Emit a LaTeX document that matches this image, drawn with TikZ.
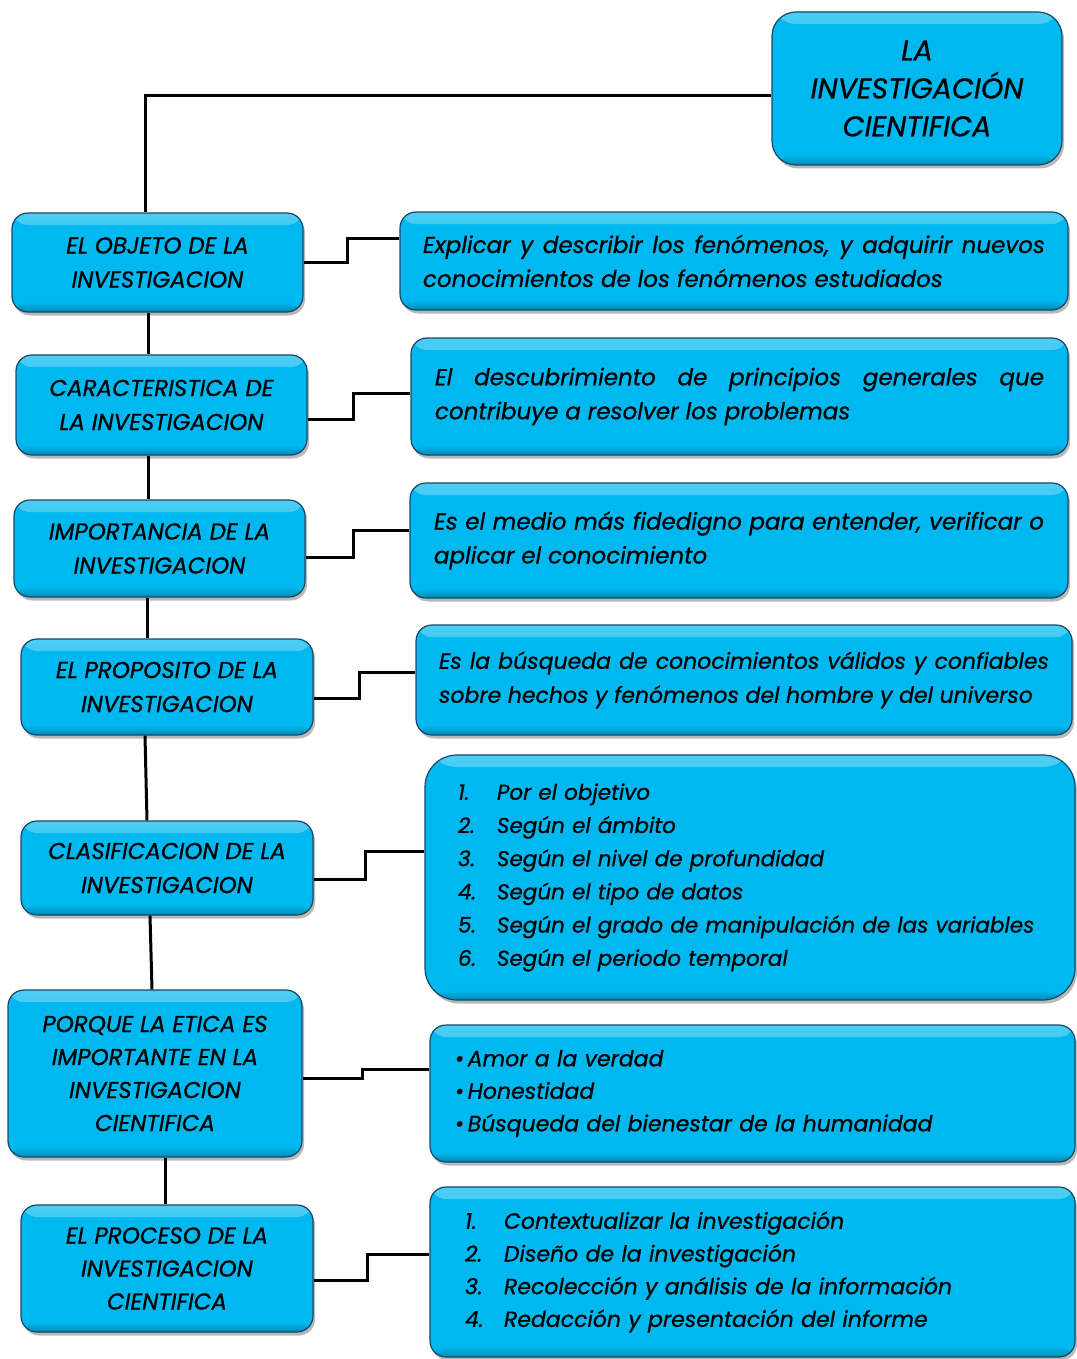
\documentclass[tikz,border=0pt]{standalone}
\usepackage{fontspec}
\setmainfont{Poppins}[ItalicFeatures={FakeBold=0.7}]
\usetikzlibrary{shadows}

\definecolor{boxfill}{RGB}{0,184,240}
\definecolor{boxline}{RGB}{22,72,104}

\tikzset{
  card/.style={draw=boxline, line width=1.2pt, fill=boxfill, rounded corners=16pt,
    drop shadow={opacity=0.55, shadow xshift=2pt, shadow yshift=-3.5pt},
    path picture={
      \shade[top color=boxfill!70!white, bottom color=boxfill]
        (path picture bounding box.north west) rectangle
        ([yshift=-12pt]path picture bounding box.north east);
      \shade[top color=boxfill, bottom color=boxfill!75!black]
        ([yshift=10pt]path picture bounding box.south west) rectangle
        (path picture bounding box.south east);
    },
    text=black, inner ysep=0pt},
  headbox/.style={card, align=center,
    font=\itshape\fontsize{23}{34}\selectfont},
  infobox/.style={card, align=left,
    font=\itshape\fontsize{22}{34}\selectfont},
  parabox/.style={card, align=justify,
    font=\itshape\fontsize{23}{34}\selectfont},
  titlebox/.style={card, rounded corners=24pt, align=center,
    font=\itshape\fontsize{28.5}{38}\selectfont},
  link/.style={draw=black, line width=3pt}
}

% numbered list entry: number in a fixed column, text kept on one line
\newcommand{\numitem}[2]{\makebox[39pt][l]{#1}\mbox{#2}}

\begin{document}
\begin{tikzpicture}[x=1pt, y=-1pt]
\useasboundingbox (0,0) rectangle (1076,1359);

% main title
\node[titlebox, minimum width=290, minimum height=153] (T) at (917,88.5)
  {LA\\INVESTIGACIÓN\\CIENTIFICA};

% left column
\node[headbox, minimum width=291, minimum height=99] (L1) at (157.5,262.5)
  {EL OBJETO DE LA\\INVESTIGACION};
\node[headbox, minimum width=291, minimum height=100] (L2) at (161.5,405)
  {CARACTERISTICA DE\\LA INVESTIGACION};
\node[headbox, minimum width=291, minimum height=97] (L3) at (159.5,548.5)
  {IMPORTANCIA DE LA\\INVESTIGACION};
\node[headbox, minimum width=292, minimum height=96] (L4) at (167,687)
  {EL PROPOSITO DE LA\\INVESTIGACION};
\node[headbox, minimum width=292, minimum height=94] (L5) at (167,868)
  {CLASIFICACION DE LA\\INVESTIGACION};
\node[headbox, minimum width=294, minimum height=167, font=\itshape\fontsize{23}{33}\selectfont] (L6) at (155,1073.5)
  {PORQUE LA ETICA ES\\IMPORTANTE EN LA\\INVESTIGACION\\CIENTIFICA};
\node[headbox, minimum width=292, minimum height=127, font=\itshape\fontsize{23}{33}\selectfont] (L7) at (167,1268.5)
  {EL PROCESO DE LA\\INVESTIGACION\\CIENTIFICA};

% right column
\node[parabox, minimum width=668, minimum height=98, text width=622] (R1) at (734,261)
  {Explicar y describir los fenómenos, y adquirir nuevos\linebreak
   conocimientos de los fenómenos estudiados};
\node[parabox, minimum width=657, minimum height=117, text width=609] (R2) at (739.5,396.5)
  {El descubrimiento de principios generales que\linebreak
   contribuye a resolver los problemas};
\node[parabox, minimum width=658, minimum height=115, text width=610] (R3) at (739,540.5)
  {Es el medio más fidedigno para entender, verificar o\linebreak
   aplicar el conocimiento};
\node[parabox, minimum width=656, minimum height=110, text width=610,
      font=\itshape\fontsize{22}{34}\selectfont] (R4) at (744,680)
  {Es la búsqueda de conocimientos válidos y confiables\linebreak
   sobre hechos y fenómenos del hombre y del universo};
\node[infobox, rounded corners=32pt, minimum width=650, minimum height=245, text width=584,
      font=\itshape\fontsize{21.5}{33.2}\selectfont] (R5) at (750,877.5)
  {\numitem{1.}{Por el objetivo}\\
   \numitem{2.}{Según el ámbito}\\
   \numitem{3.}{Según el nivel de profundidad}\\
   \numitem{4.}{Según el tipo de datos}\\
   \numitem{5.}{Según el grado de manipulación de las variables}\\
   \numitem{6.}{Según el periodo temporal}};
\node[infobox, minimum width=645, minimum height=137, text width=595,
      font=\itshape\fontsize{22}{32.5}\selectfont] (R6) at (752.5,1093.5)
  {\textbullet\,Amor a la verdad\\
   \textbullet\,Honestidad\\
   \textbullet\,Búsqueda del bienestar de la humanidad};
\node[infobox, minimum width=645, minimum height=170, text width=575,
      font=\itshape\fontsize{22}{32.7}\selectfont] (R7) at (752.5,1272)
  {\numitem{1.}{Contextualizar la investigación}\\
   \numitem{2.}{Diseño de la investigación}\\
   \numitem{3.}{Recolección y análisis de la información}\\
   \numitem{4.}{Redacción y presentación del informe}};

% spine from the title down the left column
\draw[link] ([yshift=-7.5pt]T.west) -| ([xshift=-12.5pt]L1.north);
\draw[link] ([xshift=-9.5pt]L1.south) -- ([xshift=-13.5pt]L2.north);
\draw[link] ([xshift=-13.5pt]L2.south) -- ([xshift=-11.5pt]L3.north);
\draw[link] ([xshift=-12.5pt]L3.south) -- ([xshift=-20pt]L4.north);
\draw[link] ([xshift=-22pt]L4.south) -- ([xshift=-20pt]L5.north);
\draw[link] ([xshift=-17pt]L5.south) -- ([xshift=-3pt]L6.north);
\draw[link] ([xshift=10pt]L6.south) -- ([xshift=-2pt]L7.north);

% stepped links to the descriptions
\draw[link] (L1.east) -- ++(44,0) |- ([yshift=23pt]R1.west);
\draw[link] ([yshift=-14pt]L2.east) -- ++(46,0) |- ([yshift=3.5pt]R2.west);
\draw[link] ([yshift=-8.5pt]L3.east) -- ++(48,0) |- ([yshift=10.5pt]R3.west);
\draw[link] ([yshift=-11pt]L4.east) -- ++(46,0) |- ([yshift=8pt]R4.west);
\draw[link] ([yshift=-11pt]L5.east) -- ++(52,0) |- ([yshift=26.5pt]R5.west);
\draw[link] ([yshift=-4.5pt]L6.east) -- ++(60,0) |- ([yshift=24.5pt]R6.west);
\draw[link] ([yshift=-11.5pt]L7.east) -- ++(54,0) |- ([yshift=18pt]R7.west);
\end{tikzpicture}
\end{document}
